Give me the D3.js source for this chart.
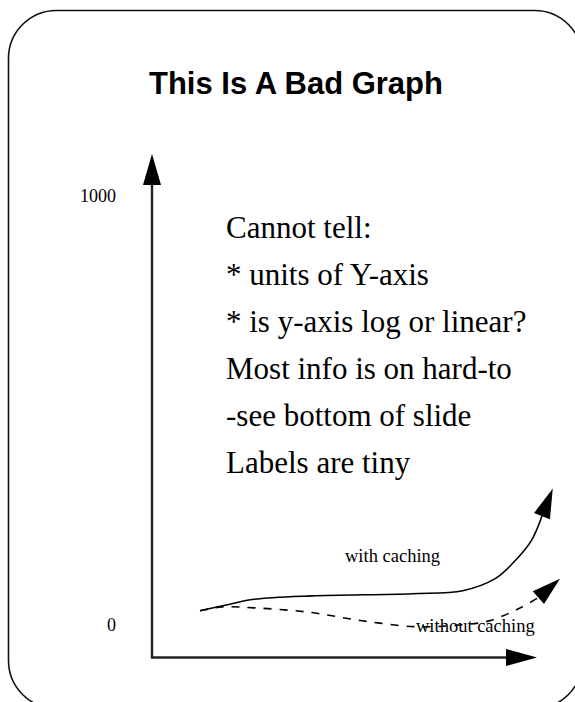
<!DOCTYPE html>
<html>
<head>
<meta charset="utf-8">
<script src="https://cdn.jsdelivr.net/npm/d3@7"></script>
<style>
  body { margin: 0; background: #fff; }
  svg { display: block; }
</style>
</head>
<body>
<svg id="chart"></svg>
<script>
const width = 575
const height = 702

// the slide text
const title = "This Is A Bad Graph"
const notes = [
  "Cannot tell:",
  "* units of Y-axis",
  "* is y-axis log or linear?",
  "Most info is on hard-to",
  "-see bottom of slide",
  "Labels are tiny"
]

// y tick labels (the only ones there are)
const yTicks = [0, 1000]

// curves, x in 0..100, y in the (unknown) units of the y axis
// last point of each is the arrow tip
const withX = [0, 8, 15, 31, 59, 73, 82, 87, 92, 95, 98]
const withY = [33, 48, 60, 68, 73, 80, 108, 145, 196, 254, 318]
const withoutX = [0, 6, 15, 30, 45, 60, 72, 80, 89, 94, 100]
const withoutY = [33, 42, 40, 30, 10, -4, 0, 9, 40, 64, 108]

const seriesLabels = ["with caching", "without caching"]

const svg = d3.select("#chart")
  .attr("width", width)
  .attr("height", height)

// rounded frame of the slide (bottom runs off the page)
svg.append("rect")
  .attr("x", 8.5)
  .attr("y", 10.5)
  .attr("width", 574)
  .attr("height", 698)
  .attr("rx", 48)
  .attr("ry", 48)
  .attr("fill", "none")
  .attr("stroke", "#111")
  .attr("stroke-width", 1.6)

svg.append("text")
  .attr("x", 296)
  .attr("y", 94)
  .attr("text-anchor", "middle")
  .style("font-family", "'Liberation Sans', Arial, Helvetica, sans-serif")
  .style("font-weight", "bold")
  .style("font-size", "31px")
  .text(title)

const xScale = d3.scaleLinear().domain([0, 100]).range([200, 560])
const yScale = d3.scaleLinear().domain([0, 1000]).range([625, 196])

// filled arrow head, tip at (tx,ty), base centred at (bx,by)
function arrowHead(bx, by, tx, ty, w) {
  const dx = tx - bx, dy = ty - by
  const len = Math.sqrt(dx * dx + dy * dy)
  const px = -dy / len * w / 2, py = dx / len * w / 2
  return `M${tx},${ty}L${bx + px},${by + py}L${bx - px},${by - py}Z`
}

// axes: plain arrows, no ticks
const ax = svg.append("g")
ax.append("line")
  .attr("x1", 152).attr("y1", 658)
  .attr("x2", 152).attr("y2", 180)
  .attr("stroke", "#222").attr("stroke-width", 2.4)
ax.append("line")
  .attr("x1", 151).attr("y1", 657.5)
  .attr("x2", 510).attr("y2", 657.5)
  .attr("stroke", "#222").attr("stroke-width", 2.4)
ax.append("path")
  .attr("d", arrowHead(152, 185, 152, 154, 18))
  .attr("fill", "#000")
ax.append("path")
  .attr("d", arrowHead(506, 657.5, 537, 657.5, 17))
  .attr("fill", "#000")

const yAxis = d3.axisLeft(yScale)
  .tickValues(yTicks)
  .tickFormat(d3.format("d"))
  .tickSize(0)
  .tickPadding(0)

svg.append("g")
  .attr("transform", "translate(116,0)")
  .call(yAxis)
  .call(g => g.select(".domain").remove())
  .selectAll("text")
  .attr("fill", "#000")
  .style("font-family", "'Liberation Serif', 'Times New Roman', serif")
  .style("font-size", "18px")

// the text block
svg.append("g")
  .selectAll("text")
  .data(notes)
  .join("text")
  .attr("x", 226)
  .attr("y", (d, i) => 238 + i * 47)
  .style("font-family", "'Liberation Serif', 'Times New Roman', serif")
  .style("font-size", "31px")
  .text(d => d)

const line = d3.line()
  .x(d => xScale(d[0]))
  .y(d => yScale(d[1]))
  .curve(d3.curveCatmullRom.alpha(0.5))

const series = [
  { pts: d3.zip(withX, withY), dash: null },
  { pts: d3.zip(withoutX, withoutY), dash: "8,8" }
]

series.forEach(s => {
  const n = s.pts.length
  const tip = s.pts[n - 1], base = s.pts[n - 2]
  svg.append("path")
    .attr("d", line(s.pts.slice(0, n - 1)))
    .attr("fill", "none")
    .attr("stroke", "#000")
    .attr("stroke-width", 1.6)
    .attr("stroke-dasharray", s.dash)
  svg.append("path")
    .attr("d", arrowHead(xScale(base[0]), yScale(base[1]), xScale(tip[0]), yScale(tip[1]), 17))
    .attr("fill", "#000")
})

svg.append("text")
  .attr("x", 345)
  .attr("y", 562)
  .style("font-family", "'Liberation Serif', 'Times New Roman', serif")
  .style("font-size", "18.5px")
  .text(seriesLabels[0])

svg.append("text")
  .attr("x", 416)
  .attr("y", 632)
  .style("font-family", "'Liberation Serif', 'Times New Roman', serif")
  .style("font-size", "18.5px")
  .text(seriesLabels[1])
</script>
</body>
</html>
